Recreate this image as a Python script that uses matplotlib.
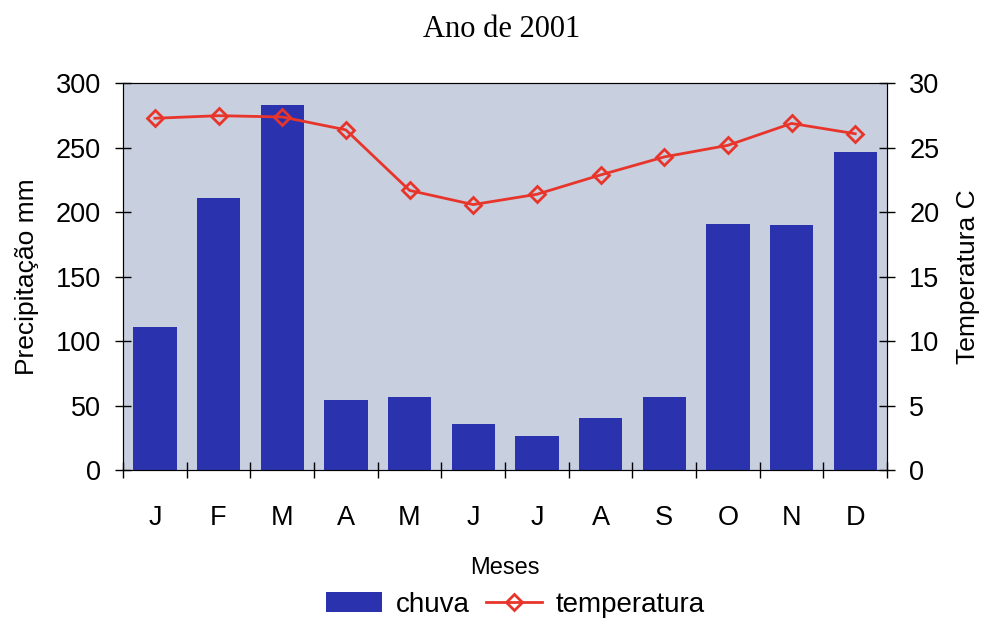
import matplotlib
matplotlib.use("Agg")
import matplotlib.pyplot as plt
import numpy as np
from matplotlib.lines import Line2D
from matplotlib.patches import Patch

months = ["J", "F", "M", "A", "M", "J", "J", "A", "S", "O", "N", "D"]
chuva = [111, 211, 283, 54, 57, 36, 26, 40, 57, 191, 190, 247]
temperatura = [27.3, 27.5, 27.4, 26.4, 21.7, 20.6, 21.4, 22.9, 24.3, 25.2, 26.9, 26.1]
left_ticks = [0, 50, 100, 150, 200, 250, 300]
right_ticks = [0, 5, 10, 15, 20, 25, 30]

sans = "Liberation Sans"
serif = "Liberation Serif"
bar_color = "#2a33ad"
line_color = "#e8352b"

fig = plt.figure(figsize=(9.82, 6.23), dpi=100)
ax = fig.add_axes([0.1253, 0.2456, 0.778, 0.6204])
ax.set_facecolor("#c8cfdf")
x = np.arange(len(months))
ax.bar(x, chuva, width=0.68, color=bar_color, zorder=2)
ax.set_xlim(-0.5, len(months) - 0.5)
ax.set_ylim(0, 300)
ax.set_yticks(left_ticks)
ax.set_yticklabels([str(v) for v in left_ticks], fontsize=19.5, family=sans)
ax.tick_params(axis="y", direction="inout", length=12, width=1, pad=10)
ax.set_xticks(x)
ax.set_xticklabels(months, fontsize=19.5, family=sans)
ax.tick_params(axis="x", which="major", length=0, pad=25)
ax.set_xticks(np.arange(-0.5, len(months), 1), minor=True)
ax.tick_params(axis="x", which="minor", direction="inout", length=12, width=1)
ax.set_ylabel("Precipitação mm", fontsize=19, family=sans, va="center")
ax.yaxis.set_label_coords(-0.126, 0.5)
ax.set_xlabel("Meses", fontsize=17, family=sans, va="center")
ax.xaxis.set_label_coords(0.5, -0.254)
for s in ax.spines.values():
    s.set_color("#333333")
ax.spines["top"].set_linewidth(0.8)

ax2 = ax.twinx()
ax2.plot(x, temperatura, color=line_color, lw=2, marker="D", markersize=8.5,
         markerfacecolor="none", markeredgecolor=line_color, markeredgewidth=2, zorder=3)
ax2.set_ylim(0, 30)
ax2.set_yticks(right_ticks)
ax2.set_yticklabels([str(v) for v in right_ticks], fontsize=19.5, family=sans)
ax2.tick_params(axis="y", direction="inout", length=12, width=1, pad=10)
ax2.set_ylabel("Temperatura C", fontsize=19, family=sans, va="center", rotation=90)
ax2.yaxis.set_label_coords(1.106, 0.5)

fig.text(0.511, 0.953, "Ano de 2001", ha="center", va="center", fontsize=22, family=serif)

handles = [Patch(facecolor=bar_color, edgecolor="none"),
           Line2D([0], [0], color=line_color, lw=2, marker="D", markersize=8.5,
                  markerfacecolor="none", markeredgecolor=line_color, markeredgewidth=2)]
fig.legend(handles, ["chuva", "temperatura"], loc="center", bbox_to_anchor=(0.525, 0.029),
           ncol=2, frameon=False, prop={"family": sans, "size": 20},
           handlelength=2.0, handleheight=0.75, columnspacing=0.6, handletextpad=0.5,
           borderpad=0)

fig.savefig("out.png", dpi=100)
